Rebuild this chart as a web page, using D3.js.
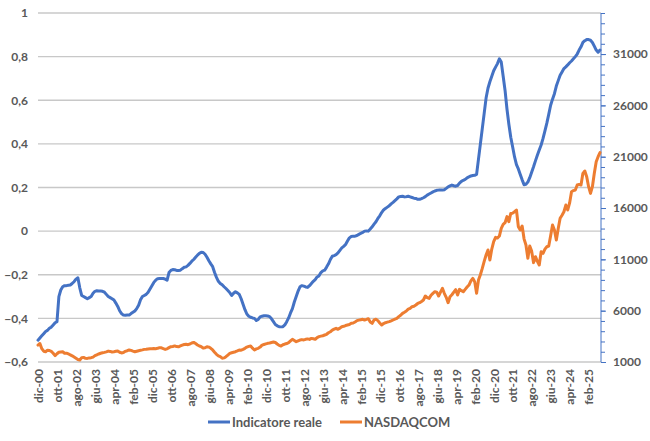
<!DOCTYPE html>
<html><head><meta charset="utf-8">
<script src="https://cdn.jsdelivr.net/npm/d3@7"></script>
<style>
html,body{margin:0;padding:0;background:#fff;}
svg text{font-family:Lato,"Open Sans",sans-serif;font-weight:700;fill:#595959;}
</style></head>
<body><svg id="c" width="650" height="441"></svg>
<script>
// ---- DATA ----
const monthNames = ["gen","feb","mar","apr","mag","giu","lug","ago","set","ott","nov","dic"];
const startYear = 2000, startMonth = 11; // dic-00
const seriesNames = ["Indicatore reale", "NASDAQCOM"];
const leftTicks = [-0.6,-0.4,-0.2,0,0.2,0.4,0.6,0.8,1];
const rightTicks = [1000,6000,11000,16000,21000,26000,31000];
const indicatore = [
-0.50,
-0.49,-0.48,-0.47,-0.46,-0.455,-0.445,-0.44,-0.43,-0.42,-0.415,-0.30,-0.27,
-0.255,-0.25,-0.25,-0.248,-0.247,-0.24,-0.232,-0.22,-0.214,-0.26,-0.295,-0.30,
-0.305,-0.31,-0.305,-0.30,-0.285,-0.276,-0.273,-0.274,-0.275,-0.276,-0.28,-0.29,
-0.30,-0.305,-0.31,-0.316,-0.33,-0.345,-0.365,-0.378,-0.385,-0.386,-0.385,-0.385,
-0.378,-0.372,-0.366,-0.355,-0.34,-0.315,-0.30,-0.295,-0.29,-0.28,-0.265,-0.25,
-0.235,-0.225,-0.218,-0.217,-0.217,-0.217,-0.22,-0.225,-0.19,-0.18,-0.176,-0.177,
-0.18,-0.18,-0.179,-0.172,-0.166,-0.164,-0.157,-0.148,-0.138,-0.13,-0.12,-0.11,
-0.102,-0.097,-0.098,-0.106,-0.12,-0.136,-0.15,-0.163,-0.19,-0.212,-0.23,-0.24,
-0.246,-0.255,-0.263,-0.272,-0.282,-0.295,-0.285,-0.278,-0.283,-0.29,-0.31,-0.335,
-0.36,-0.38,-0.39,-0.395,-0.398,-0.40,-0.41,-0.405,-0.393,-0.39,-0.388,-0.388,
-0.389,-0.392,-0.402,-0.415,-0.428,-0.434,-0.438,-0.439,-0.438,-0.43,-0.415,-0.398,
-0.375,-0.355,-0.325,-0.30,-0.275,-0.255,-0.25,-0.252,-0.256,-0.258,-0.25,-0.24,
-0.23,-0.222,-0.21,-0.205,-0.19,-0.182,-0.179,-0.165,-0.15,-0.13,-0.115,-0.112,
-0.108,-0.10,-0.088,-0.077,-0.07,-0.061,-0.045,-0.031,-0.025,-0.023,-0.023,-0.02,
-0.015,-0.01,-0.006,0.0,0.001,0.0,0.01,0.02,0.032,0.043,0.058,0.07,
0.085,0.097,0.104,0.11,0.116,0.125,0.132,0.14,0.148,0.157,0.159,0.16,
0.157,0.158,0.16,0.157,0.154,0.151,0.15,0.146,0.146,0.149,0.153,0.158,
0.165,0.17,0.175,0.18,0.184,0.187,0.188,0.188,0.188,0.19,0.196,0.203,
0.207,0.211,0.208,0.206,0.209,0.22,0.228,0.233,0.237,0.244,0.249,0.253,
0.255,0.256,0.26,0.33,0.40,0.47,0.54,0.61,0.655,0.685,0.71,0.735,
0.752,0.768,0.79,0.775,0.71,0.645,0.56,0.49,0.43,0.386,0.34,0.305,
0.285,0.26,0.235,0.213,0.215,0.225,0.245,0.27,0.295,0.322,0.348,0.372,
0.395,0.425,0.46,0.495,0.535,0.577,0.605,0.63,0.665,0.69,0.715,0.73,
0.745,0.753,0.762,0.772,0.78,0.79,0.80,0.812,0.83,0.845,0.865,0.873,
0.878,0.878,0.875,0.865,0.848,0.83,0.82,0.83
];
const nasdaq = [
2650,
2800,2300,2050,2000,2150,2120,2030,1850,1620,1800,1950,1980,
2000,1850,1860,1780,1700,1600,1480,1360,1240,1200,1420,1450,
1360,1350,1400,1420,1480,1620,1700,1780,1850,1900,1940,1990,
2060,2030,1970,2000,2040,2070,1950,1880,1920,2040,2100,2170,
2130,2060,2000,2050,2100,2140,2180,2230,2240,2270,2300,2290,
2310,2300,2330,2400,2380,2300,2230,2280,2400,2490,2510,2570,
2500,2480,2560,2640,2700,2720,2690,2750,2850,2910,2800,2660,
2560,2490,2350,2380,2490,2450,2330,2170,1950,1750,1600,1520,
1370,1400,1520,1680,1840,1900,1950,2000,2080,2170,2150,2230,
2330,2450,2520,2560,2350,2170,2280,2330,2450,2640,2700,2760,
2820,2850,2900,2950,2900,2750,2620,2560,2680,2750,2800,2880,
3050,3210,3100,2980,3060,3140,3180,3150,3210,3250,3200,3300,
3260,3210,3380,3470,3520,3560,3630,3700,3850,3950,4100,4200,
4280,4180,4300,4440,4480,4550,4600,4650,4770,4800,4900,5030,
5080,5120,5160,5090,5150,5220,4900,4770,5100,5160,5030,4800,
4600,4750,4830,4880,4930,5000,5090,5180,5250,5420,5550,5740,
5850,5970,6150,6230,6390,6430,6550,6700,6780,6900,7040,7430,
7270,7200,7500,7690,7850,7800,7430,7800,8180,7690,7300,6780,
7360,7550,7800,8050,7530,8080,7950,7850,8080,8300,8500,8900,
9150,8830,7690,8990,9500,10120,10800,11420,11910,10940,12000,12720,
13140,13070,13270,14020,14400,14570,15160,14670,15480,15500,15640,15810,
14180,13860,14250,13000,12400,11100,12300,11800,10680,11260,10800,10450,
11750,11590,12000,12230,12300,13300,14350,13860,12880,14000,15000,15300,
15640,16290,15810,16500,17590,17700,17750,18240,18300,18240,19380,19610,
19050,18080,17430,18080,19380,20510,21000,21400
];
const categories = indicatore.map((_, k) => {
  const m = (startMonth + k) % 12;
  const y = startYear + Math.floor((startMonth + k) / 12);
  return monthNames[m] + "-" + String(y % 100).padStart(2, "0");
});
const labelEvery = 10;
const colors = ["#4472C4", "#ED7D31"];

// ---- CHART ----
const svg = d3.select("#c");
const L = 38, R = 601, T = 13, B = 362;
const x = d3.scalePoint().domain(categories).range([L, R - 1]);
const yL = d3.scaleLinear().domain([-0.6, 1]).range([B, T]);
const yR = d3.scaleLinear().domain([1000, 35000]).range([B, T]);

// gridlines
svg.append("g").selectAll("line").data(leftTicks).join("line")
  .attr("x1", L).attr("x2", R).attr("y1", d => yL(d)).attr("y2", d => yL(d))
  .attr("stroke", "#c8c8c8").attr("stroke-width", 1.3);

// left axis labels
const fmtL = d => (d === 0 ? "0" : d3.format("")(+d.toFixed(1))).replace(".", ",");
const gL = svg.append("g").attr("transform", `translate(${L},0)`)
  .call(d3.axisLeft(yL).tickValues(leftTicks).tickSize(0).tickPadding(10).tickFormat(fmtL));
gL.select(".domain").remove();
gL.selectAll("text").attr("font-size", 12).attr("fill", "#595959");

// right axis
const gR = svg.append("g").attr("transform", `translate(${R},0)`);
gR.call(d3.axisRight(yR).tickValues(d3.range(1000, 35001, 1000)).tickSize(4).tickFormat(""));
gR.select(".domain").attr("stroke", colors[0]).attr("d", `M0,${T}V${B}`);
gR.selectAll(".tick line").attr("stroke", colors[0]);
const gR2 = svg.append("g").attr("transform", `translate(${R},0)`)
  .call(d3.axisRight(yR).tickValues(rightTicks).tickSize(5).tickPadding(7).tickFormat(d3.format("d")));
gR2.select(".domain").remove();
gR2.selectAll(".tick line").attr("stroke", colors[0]);
gR2.selectAll("text").attr("font-size", 12).attr("fill", "#595959");

// x axis
const gX = svg.append("g").attr("transform", `translate(0,${B})`)
  .call(d3.axisBottom(x).tickValues(categories.filter((_, i) => i % labelEvery === 0)).tickSize(0));
gX.select(".domain").remove();
gX.selectAll("text")
  .attr("font-size", 12).attr("fill", "#595959")
  .attr("text-anchor", "end")
  .attr("transform", "rotate(-90)")
  .attr("x", -7).attr("y", 0).attr("dy", "0.36em");

// lines
const lineL = d3.line().x((d, i) => x(categories[i])).y(d => yL(d));
const lineR = d3.line().x((d, i) => x(categories[i])).y(d => yR(d));
svg.append("path").datum(indicatore).attr("d", lineL)
  .attr("fill", "none").attr("stroke", colors[0]).attr("stroke-width", 3)
  .attr("stroke-linejoin", "round").attr("stroke-linecap", "round");
svg.append("path").datum(nasdaq).attr("d", lineR)
  .attr("fill", "none").attr("stroke", colors[1]).attr("stroke-width", 3)
  .attr("stroke-linejoin", "round").attr("stroke-linecap", "round");

// legend
const legend = svg.append("g");
const legPos = [208, 340];
seriesNames.forEach((name, k) => {
  const g = legend.append("g").attr("transform", `translate(${legPos[k]},422)`);
  g.append("line").attr("x1", 0).attr("x2", 22).attr("stroke", colors[k]).attr("stroke-width", 3);
  g.append("text").attr("x", 24).attr("dy", "0.36em").attr("font-size", 13).text(name);
});
</script></body></html>
